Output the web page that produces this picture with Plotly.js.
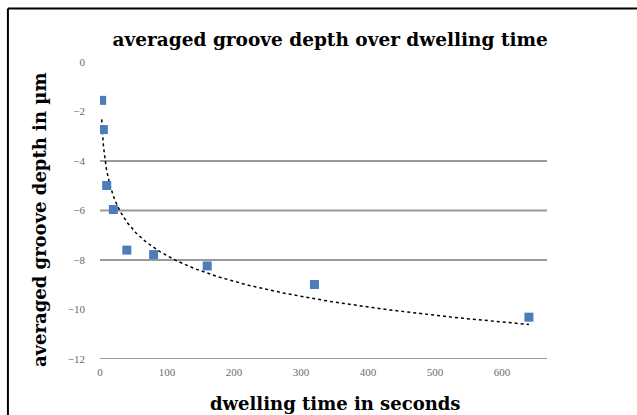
<!DOCTYPE html>
<html>
<head>
<meta charset="utf-8">
<script src="https://cdn.plot.ly/plotly-3.0.1.min.js"></script>
<style>html,body{margin:0;padding:0;background:#fff;}#chart{width:637px;height:415px;}</style>
</head>
<body>
<div id="chart"></div>
<script>
// Data
const dwellTime = [2.5, 5, 10, 20, 40, 80, 160, 320, 640];
const grooveDepth = [-1.55, -2.73, -4.99, -5.96, -7.6, -7.78, -8.24, -8.99, -10.31];
const xTickVals = [0, 100, 200, 300, 400, 500, 600];
const yTickVals = [0, -2, -4, -6, -8, -10, -12];
const gridVals = [-4, -6, -8, -12];

// Logarithmic trendline (least squares on ln x), as in a spreadsheet trendline
const lx = dwellTime.map(Math.log);
const n = lx.length;
const mx = lx.reduce((a, b) => a + b, 0) / n;
const my = grooveDepth.reduce((a, b) => a + b, 0) / n;
let sxy = 0, sxx = 0;
for (let i = 0; i < n; i++) { sxy += (lx[i] - mx) * (grooveDepth[i] - my); sxx += (lx[i] - mx) ** 2; }
const slope = sxy / sxx, icpt = my - slope * mx;
const trendX = [], trendY = [];
const x0 = Math.min(...dwellTime), x1 = Math.max(...dwellTime);
for (let k = 0; k <= 200; k++) {
  const x = Math.exp(Math.log(x0) + (Math.log(x1) - Math.log(x0)) * k / 200);
  trendX.push(x); trendY.push(slope * Math.log(x) + icpt);
}

const tickFont = {family: 'Liberation Serif, serif', size: 11, color: '#6a6a6a'};
const titleFont = {family: 'DejaVu Serif, serif', size: 18.5, color: '#000', weight: 'bold'};
const axTitleFont = {family: 'DejaVu Serif, serif', size: 18, color: '#000', weight: 'bold'};
const data = [
  {x: trendX, y: trendY, mode: 'lines', line: {color: '#000', width: 1.5, dash: 'dot'}, hoverinfo: 'skip', showlegend: false},
  {x: dwellTime, y: grooveDepth, mode: 'markers', marker: {symbol: 'square', size: 9, color: '#4A7EBB'}, showlegend: false}
];
const gridShapes = gridVals.map(v => ({type: 'line', xref: 'paper', yref: 'y', x0: 0, x1: 1, y0: v, y1: v, layer: 'below', line: {color: '#9a9a9a', width: 2}}));
const layout = {
  width: 637, height: 415,
  margin: {l: 100, r: 90, t: 62, b: 56},
  paper_bgcolor: '#fff', plot_bgcolor: '#fff',
  title: {text: 'averaged groove depth over dwelling time', font: titleFont,
          x: 0.515, xanchor: 'center', y: 0.905, yanchor: 'middle', xref: 'paper', yref: 'container'},
  xaxis: {range: [0, 667], tickvals: xTickVals, showgrid: false, zeroline: false, showline: false, ticks: '', tickfont: tickFont, ticklabelstandoff: 5},
  yaxis: {range: [-12, 0], tickvals: yTickVals, showgrid: false, zeroline: false, showline: false, ticks: '', tickfont: tickFont, ticklabelstandoff: 14},
  annotations: [
    {text: 'averaged groove depth in µm', textangle: -90, xref: 'paper', yref: 'paper', x: -0.135, y: 0.47, xanchor: 'center', yanchor: 'middle', showarrow: false, font: axTitleFont},
    {text: 'dwelling time in seconds', xref: 'paper', yref: 'paper', x: 0.525, y: -0.15, xanchor: 'center', yanchor: 'middle', showarrow: false, font: axTitleFont}
  ],
  shapes: gridShapes.concat([
    {type: 'line', xref: 'paper', yref: 'paper', x0: -0.206, x1: -0.206, y0: -0.2, y1: 1.18, line: {color: '#000', width: 2}},
    {type: 'line', xref: 'paper', yref: 'paper', x0: -0.206, x1: 1.25, y0: 1.18, y1: 1.18, line: {color: '#000', width: 2}}
  ])
};
Plotly.newPlot('chart', data, layout, {displayModeBar: false, staticPlot: true});
</script>
</body>
</html>
